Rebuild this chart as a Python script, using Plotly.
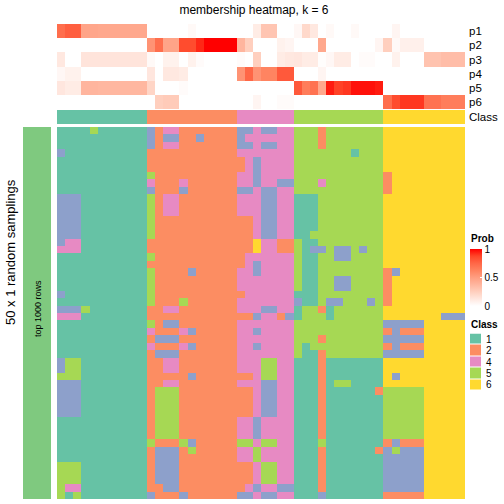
import plotly.graph_objects as go

W = 504.0
FONT = "Liberation Sans, Arial, sans-serif"

def fx(p): return p / W
def fy(p): return 1 - p / W

rows = [
"11115111111 32442222222 3343344 55525555555 6666666666",
"11111111111 32332232222 3444444 55525555555 6666666666",
"11111111111 32442222222 3343344 55525555555 6666666666",
"31111111111 22222222222 4444444 55555551555 6666666666",
"11111111111 22222222222 2434444 55555555555 6666666666",
"11111111111 22222222222 2434444 55555555555 6666666666",
"11111111111 52222222222 4434444 55555555555 2666666666",
"11111111111 42224222222 4434433 55545555555 2666666666",
"11111111111 32223222222 3343344 55555555555 2666666666",
"33311111111 52442222222 4443344 11155555555 6666666666",
"33311111111 52442222222 4443344 11155555555 6666666666",
"33311111111 52442222222 4443344 11155555555 6666666666",
"33311111111 52222222222 2243344 11155555555 6666666666",
"33311111111 52222222222 2243344 11155555555 6666666666",
"33311111111 52222222222 2243344 11555555555 6666666666",
"34411111111 22222222222 2264422 51155555555 6666666666",
"44411111111 22222222222 2264422 51335335355 6666666666",
"11111111111 52222222222 2444444 51155335555 6666666666",
"11111111111 22222222222 2434444 51155555555 6666666666",
"11111111111 52222322222 4434444 51155555555 2366666666",
"11111111111 52222222222 4444444 51155335555 2666666666",
"11111111111 52222222222 4444444 51155335555 2666666666",
"31111111111 52222222222 2444444 11155555555 2666666666",
"11111111111 52225222222 4444444 31153355535 2666666666",
"33351111111 22442222222 4443344 15521555555 6666666666",
"44411111111 22222222222 2234423 15551555555 6666666333",
"11111111111 52332222222 4444444 55555555555 3333366666",
"11111111111 42224322222 4434444 55555555555 2322266666",
"11111111111 23332222222 4444444 55525555555 3333366666",
"11111111111 42224322222 4434444 51555555555 2322266666",
"11111111111 23332222222 4444444 51125555555 3333366666",
"35511111111 22442222222 4445544 11121111111 6666666666",
"35511111111 22442222222 4445544 11121111111 6666666666",
"55511111111 22222322222 2245544 11121111111 6366666666",
"33311111111 22442222222 4443344 11121551111 6666666666",
"33311111111 25552222222 2243344 11121111112 5555566666",
"33311111111 25552222222 2243344 11121111111 5555566666",
"33311111111 25552222222 2243344 11121111111 5555566666",
"33311111111 25552222222 2243344 11121111111 5555566666",
"11111111111 25552222222 4434444 11121111111 5555566666",
"11111111111 25552222222 4434444 11121111111 5555566666",
"11111111111 25552222222 4434444 11121111111 5555566666",
"11111111111 52225322222 5545544 11151111111 2322266666",
"11111111111 23332522222 4454444 11121111112 3533366666",
"11111111111 23332222222 4454444 11121111111 3333366666",
"55511111111 23332222222 2245544 11121111111 3333366666",
"55511111111 23332222222 2245544 11121111111 3333366666",
"55511111111 23332222222 2245544 11121111111 3333366666",
"54411111111 22332222222 2434433 11121111111 3333366666",
"51511111111 32223222222 3343344 11131111111 2222266666",
]

p_labels = ["p1", "p2", "p3", "p4", "p5", "p6"]
p1 = [.72,.78,.78,.47,.46,.45,.45,.45,.45,.45,.45, 0,0,0,0,0,.03,0,0,0,0,0, 0,0,.1,.3,.3,0,0, .04,.2,.12,0,.03,0,0,.03,0,0,0, 0,.05,0,0,0,0,0,0,0,0]
p2 = [0,0,0,0,0,0,0,0,0,0,0, .55,.72,.47,.47,.85,.85,.93,1,1,1,1, .38,.25,0,0,0,.07,.05, 0,0,0,.45,0,0,0,0,0,0,.05, .25,.03,.08,.08,.08,0,0,0,0,0]
p3 = [.12,0,0,.14,.14,.14,.14,.14,.14,.14,.14, .03,0,.07,.07,0,.07,.02,0,0,0,0, .02,0,.25,0,0,.1,.12, .13,.1,.1,.01,.04,.1,.1,0,.02,.02,0, 0,.07,0,0,0,.31,.31,.34,.34,.34]
p4 = [.04,.07,.07,0,0,0,0,0,0,0,0, .13,0,.12,.12,.1,0,0,0,0,0,0, .55,.75,.55,.62,.62,.8,.8, 0,0,0,.05,0,0,0,0,0,0,0, 0,0,0,0,0,0,0,0,0,0]
p5 = [.13,.1,.1,.38,.38,.37,.37,.37,.37,.37,.37, .22,0,0,0,.02,0,0,0,0,0,0, 0,0,0,0,0,0,0, .8,.65,.7,.45,.95,.88,.9,.97,.97,.97,.95, 0,0,0,0,0,0,0,0,0,0]
p6 = [0,0,0,0,0,0,0,0,0,0,0, 0,.25,.27,.27,0,0,0,0,0,0,0, 0,0,.05,0,0,.02,.02, 0,0,0,0,0,0,0,0,0,0,0, .72,.85,.9,.9,.9,.7,.7,.65,.65,.65]

class_bar = "11111111111 22222222222 4444444 55555555555 6666666666"
legend_classes = ["1", "2", "4", "5", "6"]
legend_title = "Class"
prob_ticks = [0, 0.5, 1]

title = "membership heatmap, k = 6"
left_label = "50 x 1 random samplings"
group_label = "top 1000 rows"

palette = {1: "#66C2A5", 2: "#FC8D62", 3: "#8DA0CB", 4: "#E78AC3", 5: "#A6D854", 6: "#FFD92F"}
prob_scale = [[0, "#FFFFFF"], [.125, "#FFE7DF"], [.25, "#FFCFBE"], [.375, "#FFB69F"],
              [.5, "#FF9E81"], [.625, "#FF8360"], [.75, "#FF6747"], [.875, "#FF4528"], [1, "#FF0000"]]
cat_scale = []
for k in range(6):
    cat_scale += [[k / 6, palette[k + 1]], [(k + 1) / 6, palette[k + 1]]]

def codes(s):
    return [int(c) for c in s.replace(" ", "")]

matrix = [codes(r) for r in rows]
cols = list(range(50))
row_idx = list(range(50))

fig = go.Figure()
fig.add_trace(go.Heatmap(z=[p1, p2, p3, p4, p5, p6], x=cols, y=p_labels, zmin=0, zmax=1,
                         colorscale=prob_scale, xaxis="x", yaxis="y", hoverinfo="skip",
                         colorbar=dict(thickness=12, thicknessmode="pixels", len=57, lenmode="pixels",
                                       x=fx(470), xanchor="left", y=fy(277.5), yanchor="middle",
                                       xpad=0, ypad=0, outlinewidth=0, borderwidth=0,
                                       ticks="inside", ticklen=2, tickcolor="white", tickwidth=1,
                                       tickvals=prob_ticks, ticktext=["0", "0.5", "1"],
                                       tickfont=dict(family=FONT, size=10, color="black"))))
fig.add_trace(go.Heatmap(z=[codes(class_bar)], x=cols, y=["Class"], zmin=1, zmax=7, colorscale=cat_scale,
                         showscale=False, xaxis="x", yaxis="y2", hoverinfo="skip"))
fig.add_trace(go.Heatmap(z=matrix, x=cols, y=row_idx, zmin=1, zmax=7, colorscale=cat_scale,
                         showscale=False, xaxis="x", yaxis="y3", hoverinfo="skip"))
fig.add_trace(go.Heatmap(z=[[1]], x=[0], y=[0], colorscale=[[0, "#7FC97F"], [1, "#7FC97F"]],
                         showscale=False, xaxis="x2", yaxis="y4", hoverinfo="skip"))
fig.add_trace(go.Heatmap(z=[[int(c)] for c in legend_classes], x=[0], y=legend_classes, zmin=1, zmax=7,
                         colorscale=cat_scale, showscale=False, xaxis="x3", yaxis="y5", hoverinfo="skip",
                         xgap=1, ygap=1))

hidden = dict(showgrid=False, zeroline=False, showline=False, ticks="", showticklabels=False)
def right_axis(top, bottom, labels, anchor="x", size=11.5, standoff=3):
    return dict(domain=[fy(bottom), fy(top)], anchor=anchor, side="right", autorange="reversed",
                showgrid=False, zeroline=False, showline=False, ticks="", type="category",
                tickmode="array", tickvals=labels, ticktext=labels, ticklabelstandoff=standoff,
                tickfont=dict(family=FONT, size=size, color="black"))

notes = [
    dict(text=left_label, x=fx(10), y=fy(252), textangle=-90, font=dict(size=13)),
    dict(text=group_label, x=fx(38), y=fy(309), textangle=-90, font=dict(size=9)),
    dict(text="<b>Prob</b>", x=fx(469), y=fy(238), xanchor="left", font=dict(size=10)),
    dict(text="<b>%s</b>" % legend_title, x=fx(469), y=fy(324), xanchor="left", font=dict(size=10)),
]
for n in notes:
    n.update(xref="paper", yref="paper", showarrow=False, xshift=0, yshift=0)
    n.setdefault("xanchor", "center")
    n["yanchor"] = "middle"
    n["font"]["family"] = FONT
    n["font"]["color"] = "black"

fig.update_layout(
    width=504, height=504, margin=dict(l=0, r=0, t=0, b=0, pad=0),
    paper_bgcolor="white", plot_bgcolor="white", showlegend=False,
    title=dict(text=title, x=fx(254), xanchor="center", y=fy(10), yanchor="middle",
               font=dict(family=FONT, size=12, color="black")),
    xaxis=dict(domain=[fx(57), fx(465)], range=[-0.5, 49.5], anchor="y3", **hidden),
    yaxis=right_axis(24, 109.3, p_labels),
    yaxis2=right_axis(110, 124, ["Class"]),
    yaxis3=dict(domain=[fy(499), fy(127)], anchor="x", autorange="reversed", **hidden),
    xaxis2=dict(domain=[fx(23), fx(51)], anchor="y4", **hidden),
    yaxis4=dict(domain=[fy(499), fy(127)], anchor="x2", **hidden),
    xaxis3=dict(domain=[fx(470), fx(482)], anchor="y5", **hidden),
    yaxis5=right_axis(333.5, 390.5, legend_classes, anchor="x3", size=10),
    annotations=notes,
)

fig.write_html("out.html", post_script="document.body.style.margin='0';window.dispatchEvent(new Event('resize'));",
               config={"displayModeBar": False})
